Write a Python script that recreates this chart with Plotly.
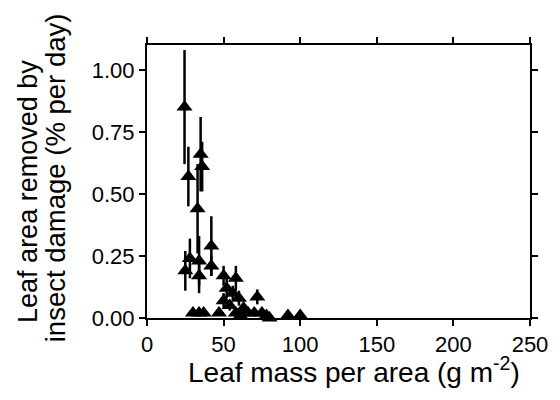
import plotly.graph_objects as go

lma = [24.5, 27, 35, 36, 33, 42, 28, 25, 34, 34, 42, 30, 34, 37,
       50, 58, 52, 56, 50, 60, 54, 63, 72, 47, 58, 61, 66, 70, 75, 78, 80, 92, 100]
removed = [0.85, 0.57, 0.66, 0.61, 0.44, 0.29, 0.24, 0.19, 0.23, 0.17, 0.21, 0.02, 0.02, 0.02,
           0.17, 0.16, 0.12, 0.10, 0.07, 0.08, 0.05, 0.04, 0.085, 0.02, 0.02, 0.01, 0.02, 0.02, 0.02, 0.01, 0.0, 0.01, 0.01]
err = [0.23, 0.12, 0.15, 0.10, 0.18, 0.12, 0.08, 0.08, 0.10, 0.07, 0.04, 0.01, 0.01, 0.01,
       0.04, 0.05, 0.04, 0.03, 0.03, 0.03, 0.02, 0.02, 0.03, 0.01, 0.01, 0.01, 0.01, 0.01, 0.01, 0.005, 0.0, 0.0, 0.0]

x_ticks = [0, 50, 100, 150, 200, 250]
y_ticks = [0.0, 0.25, 0.5, 0.75, 1.0]

x_title = "Leaf mass per area (g m<sup>-2</sup>)"
y_title_lines = ["Leaf area removed by", "insect damage (% per day)"]

fig = go.Figure(go.Scatter(
    x=lma, y=removed, mode="markers",
    marker=dict(symbol="triangle-up", size=14, color="black"),
    error_y=dict(type="data", array=err, visible=True, color="black", thickness=2.5, width=0),
    cliponaxis=False,
))

font = "Liberation Sans, Arial, sans-serif"
axis_common = dict(showline=True, linecolor="black", linewidth=2, mirror="ticks",
                   ticks="outside", ticklen=6, tickwidth=2, tickcolor="black",
                   showgrid=False, zeroline=False)

fig.update_xaxes(range=[0, 250], tickvals=x_ticks, ticktext=[str(v) for v in x_ticks],
                 tickfont=dict(family=font, size=22, color="black"), **axis_common)
fig.update_yaxes(range=[0, 1.1], tickvals=y_ticks, ticktext=[f"{v:.2f}" for v in y_ticks],
                 tickfont=dict(family=font, size=22, color="black"), **axis_common)

annotations = [
    dict(text=x_title, x=0.54, y=-0.19, xref="paper", yref="paper",
         xanchor="center", yanchor="middle", showarrow=False,
         font=dict(family=font, size=28, color="black")),
    dict(text=y_title_lines[0], x=-0.311, y=0.465, xref="paper", yref="paper",
         xanchor="center", yanchor="middle", showarrow=False, textangle=-90,
         font=dict(family=font, size=27, color="black")),
    dict(text=y_title_lines[1], x=-0.238, y=0.515, xref="paper", yref="paper",
         xanchor="center", yanchor="middle", showarrow=False, textangle=-90,
         font=dict(family=font, size=27.5, color="black")),
]

fig.update_layout(width=552, height=392, margin=dict(l=139, r=27, t=37, b=82),
                  plot_bgcolor="white", paper_bgcolor="white", showlegend=False,
                  annotations=annotations)

fig.write_html("out.html")
